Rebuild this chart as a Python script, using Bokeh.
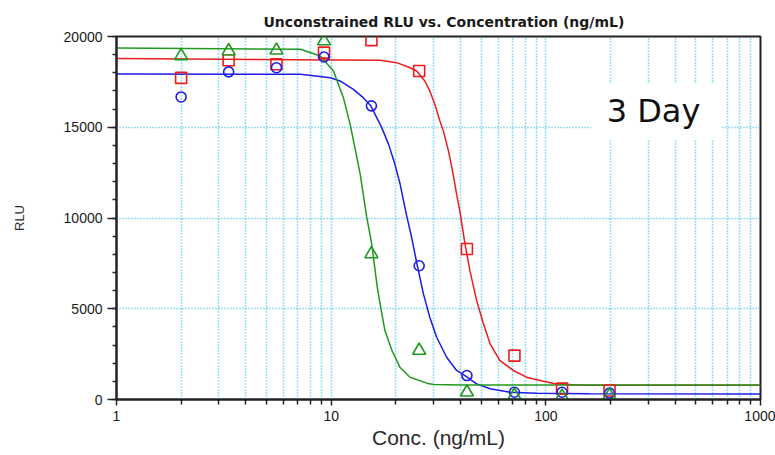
from bokeh.plotting import figure
from bokeh.embed import file_html
from bokeh.resources import INLINE
from bokeh.models import FixedTicker, NumeralTickFormatter, BoxAnnotation, Label, Title

# ---- data ----
conc = [2.0, 3.33, 5.56, 9.26, 15.4, 25.7, 42.9, 71.4, 119.0, 198.0]
red_rlu = [17720, 18690, 18470, 19110, 19800, 18100, 8290, 2420, 600, 500]
blue_rlu = [16670, 18050, 18280, 18870, 16180, 7370, 1320, 400, 400, 350]
green_rlu = [18930, 19200, 19240, 19750, 8020, 2700, 400, 220, 170, 220]

# fitted curves
red_fit_x = [1, 16.9, 20.2, 23.3, 25.0, 27.3, 28.8, 30.4, 32.1, 33.3, 35.2, 37.0, 38.4,
             39.8, 42.0, 44.3, 47.6, 51.2, 55.0, 61.0, 70.6, 81.2, 97.3, 112, 150, 1000]
red_fit_y = [18790, 18690, 18560, 18280, 18100, 17550, 17000, 16270, 15350, 14800, 13700,
             12420, 11320, 10350, 8570, 7100, 5450, 4170, 3070, 2150, 1600, 1230, 1010, 860,
             790, 780]
blue_fit_x = [1, 7.2, 9.9, 11.0, 12.7, 14.1, 15.3, 17.2, 18.5, 19.8, 20.95, 22.4, 23.7, 25.2,
              26.9, 28.8, 31.0, 34.5, 38.4, 42.0, 47.6, 55.0, 68.1, 90.6, 160, 1000]
blue_fit_y = [17940, 17920, 17730, 17550, 17090, 16630, 16180, 14980, 14070, 12970, 11870,
              10200, 8930, 7370, 5820, 4530, 3430, 2330, 1600, 1320, 860, 590, 400, 350,
              315, 300]
green_fit_x = [1, 7.2, 8.9, 10.25, 11.4, 12.25, 12.9, 13.65, 14.65, 15.45, 16.4, 16.9, 17.8,
               19.2, 20.9, 23.3, 27.9, 30.0, 40.0, 1000]
green_fit_y = [19370, 19300, 18930, 18100, 16630, 15170, 13880, 12420, 10030, 8570, 6180,
               5270, 3800, 2700, 1780, 1230, 900, 830, 800, 800]

x_major = [1, 10, 100, 1000]
x_minor = [m * d for d in (1, 10, 100) for m in range(2, 10)]
y_major = [0, 5000, 10000, 15000, 20000]
y_minor = list(range(0, 20001, 1000))

RED = "#EE1C1C"
BLUE = "#1C1CE8"
GREEN = "#1F9A1F"
GRID = "#3CBEF0"
FONT = "Liberation Sans"

p = figure(width=775, height=455, x_axis_type="log", x_range=(1, 1000), y_range=(0, 20000),
           output_backend="svg", toolbar_location=None,
           min_border_left=116, min_border_right=15, min_border_top=36, min_border_bottom=56,
           background_fill_color="white", border_fill_color="white")

p.title = Title(text="Unconstrained RLU vs. Concentration (ng/mL)", align="left", offset=147,
                text_font="DejaVu Sans", text_font_size="14px", text_font_style="bold",
                text_color="#1a1a1a", standoff=13)

p.outline_line_color = "#222222"
p.outline_line_width = 2

# axes
xt = FixedTicker(ticks=x_major, minor_ticks=x_minor)
yt = FixedTicker(ticks=y_major, minor_ticks=y_minor)
p.xaxis.ticker = xt
p.yaxis.ticker = yt
p.xgrid.ticker = xt
p.ygrid.ticker = yt
p.xaxis.formatter = NumeralTickFormatter(format="0")
p.yaxis.formatter = NumeralTickFormatter(format="0")

for ax in (p.xaxis, p.yaxis):
    ax.axis_line_color = "#222222"
    ax.axis_line_width = 2
    ax.major_tick_line_color = "#222222"
    ax.minor_tick_line_color = "#222222"
    ax.major_tick_line_width = 1.5
    ax.minor_tick_line_width = 1.5
    ax.major_tick_in = 0
    ax.minor_tick_in = 0
    ax.major_label_text_font = FONT
    ax.major_label_text_font_size = "14px"
    ax.major_label_text_color = "#1a1a1a"
    ax.axis_label_text_font = FONT
    ax.axis_label_text_font_style = "normal"
    ax.axis_label_text_color = "#2a2a2a"

p.xaxis.major_tick_out = 6
p.xaxis.minor_tick_out = 5
p.xaxis.major_label_standoff = 5
p.xaxis.axis_label = "Conc. (ng/mL)"
p.xaxis.axis_label_text_font_size = "21px"
p.xaxis.axis_label_standoff = 2

p.yaxis.major_tick_out = 9
p.yaxis.minor_tick_out = 4
p.yaxis.major_label_standoff = 5
p.yaxis.axis_label = "RLU"
p.yaxis.axis_label_text_font_size = "13px"
p.yaxis.axis_label_standoff = 34

# grids (light-blue dotted)
for g in (p.xgrid, p.ygrid):
    g.grid_line_color = GRID
    g.grid_line_dash = "1 2"
    g.grid_line_width = 1.6
p.xgrid.minor_grid_line_color = GRID
p.xgrid.minor_grid_line_dash = "1 2"
p.xgrid.minor_grid_line_width = 1.6
p.ygrid.minor_grid_line_color = None

# fitted curves
p.line(red_fit_x, red_fit_y, line_color=RED, line_width=1.5)
p.line(blue_fit_x, blue_fit_y, line_color=BLUE, line_width=1.5)
p.line(green_fit_x, green_fit_y, line_color=GREEN, line_width=1.5)

# data points
p.scatter(conc, red_rlu, marker="square", size=11, fill_color=None, line_color=RED, line_width=1.6)
p.scatter(conc, blue_rlu, marker="circle", size=10, fill_color=None, line_color=BLUE, line_width=1.6)
p.scatter(conc, green_rlu, marker="triangle", size=13, fill_color=None, line_color=GREEN, line_width=1.6)

# "3 Day" annotation on a white box
p.add_layout(BoxAnnotation(left=163, right=655, top=17400, bottom=14300,
                           fill_color="white", fill_alpha=1.0, line_color=None))
p.add_layout(Label(x=192, y=15900, text="3 Day", text_font="DejaVu Sans",
                   text_font_size="32px", text_color="#111111", text_baseline="alphabetic"))

open("out.html", "w").write(file_html(p, INLINE))
